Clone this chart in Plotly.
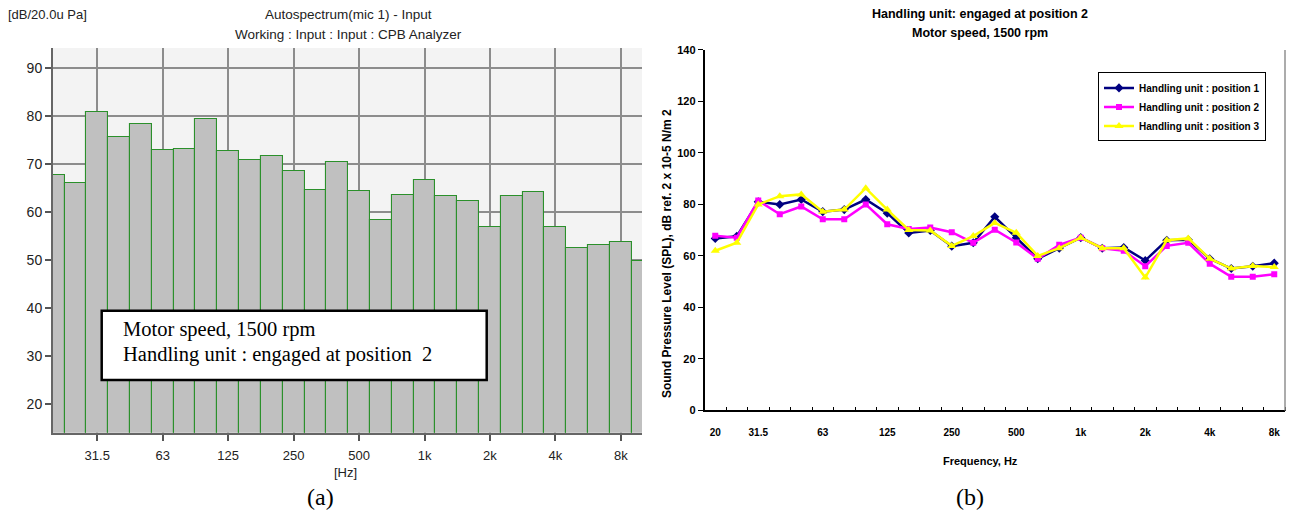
import plotly.graph_objects as go

W, H = 1289, 517

# ---- data ----
bands_a = ["20", "25", "31.5", "40", "50", "63", "80", "100", "125", "160", "200", "250", "315", "400",
           "500", "630", "800", "1k", "1.25k", "1.6k", "2k", "2.5k", "3.15k", "4k", "5k", "6.3k", "8k", "10k"]
autospec = [67.6, 66.1, 80.9, 75.6, 78.3, 73.0, 73.2, 79.3, 72.7, 70.9, 71.6, 68.5, 64.6, 70.5,
            64.3, 58.4, 63.6, 66.6, 63.3, 62.4, 56.8, 63.3, 64.1, 56.8, 52.6, 53.2, 53.7, 49.8]
ticks_a = ["31.5", "63", "125", "250", "500", "1k", "2k", "4k", "8k"]

bands_b = bands_a[:27]
pos1 = [66.8, 67.6, 81.0, 80.0, 81.9, 77.2, 78.0, 81.9, 76.6, 68.9, 69.9, 63.8, 65.1, 75.2,
        67.1, 58.9, 63.0, 67.1, 63.0, 63.3, 58.2, 66.1, 66.3, 58.9, 55.1, 56.0, 57.2]
pos2 = [67.8, 67.1, 81.5, 76.2, 79.2, 74.2, 74.2, 80.0, 72.3, 70.5, 71.0, 69.2, 65.1, 70.2,
        65.2, 58.9, 64.3, 67.1, 63.0, 62.0, 56.0, 63.9, 65.1, 57.0, 51.9, 51.9, 52.9]
pos3 = [62.0, 65.1, 80.0, 83.2, 83.9, 77.2, 78.0, 86.3, 78.0, 70.1, 69.9, 63.9, 67.7, 72.8,
        69.0, 60.0, 63.0, 67.1, 63.0, 63.0, 51.6, 66.1, 66.8, 58.9, 55.1, 56.1, 55.7]
ticks_b = ["20", "31.5", "63", "125", "250", "500", "1k", "2k", "4k", "8k"]
series_names = ["Handling unit : position 1", "Handling unit : position 2", "Handling unit : position 3"]

# ---- helpers ----
def px(x):
    return x / W

def py(y):
    return 1 - y / H

NARROW = "Liberation Sans Narrow, Arial Narrow, Liberation Sans, Arial"
SANS = "Liberation Sans, Arial"
SERIF = "Liberation Serif, Times New Roman"

xa = list(range(len(bands_a)))
xb = list(range(len(bands_b)))
tickpos_a = [bands_a.index(t) for t in ticks_a]
tickpos_b = [bands_b.index(t) for t in ticks_b]

fig = go.Figure()

fig.add_trace(go.Bar(
    x=xa, y=autospec, width=1, base=0,
    marker=dict(color="#c0c0c0", line=dict(color="#2b902b", width=1.1)),
    xaxis="x", yaxis="y", showlegend=False, hoverinfo="skip"))

styles = [
    dict(color="#000080", symbol="diamond", size=7),
    dict(color="#ff00ff", symbol="square", size=6),
    dict(color="#ffff00", symbol="triangle-up", size=8),
]
for name, vals, st in zip(series_names, [pos1, pos2, pos3], styles):
    fig.add_trace(go.Scatter(
        x=xb, y=vals, mode="lines+markers", name=name,
        line=dict(color=st["color"], width=2.5),
        marker=dict(color=st["color"], symbol=st["symbol"], size=st["size"]),
        xaxis="x2", yaxis="y2"))

fig.update_layout(
    width=W, height=H, margin=dict(l=0, r=0, t=0, b=0),
    paper_bgcolor="white", plot_bgcolor="white",
    bargap=0,
    xaxis=dict(domain=[px(53), px(642)], range=[-0.03, 26.97],
               tickmode="array", tickvals=tickpos_a, ticktext=ticks_a,
               ticks="outside", ticklen=6, tickcolor="#555", tickwidth=1.5,
               ticklabelstandoff=4,
               showgrid=True, gridcolor="#8c8c8c", gridwidth=1.5,
               showline=True, linecolor="#666", linewidth=2,
               zeroline=False, anchor="y",
               tickfont=dict(family=SANS, size=13, color="#222")),
    yaxis=dict(domain=[py(437), py(43)], range=[14.1, 94.1],
               tickmode="array", tickvals=[20, 30, 40, 50, 60, 70, 80, 90],
               ticks="outside", ticklen=6, tickcolor="#555", tickwidth=1.5,
               showgrid=True, gridcolor="#8c8c8c", gridwidth=1.5,
               showline=True, linecolor="#666", linewidth=2,
               zeroline=False, anchor="x",
               tickfont=dict(family=SANS, size=14, color="#222")),
    xaxis2=dict(domain=[px(704.5), px(1285)], range=[-0.5, 26.5],
                tickmode="array", tickvals=tickpos_b, ticktext=ticks_b, ticks="",
                ticklabelstandoff=12,
                minor=dict(tickmode="array", tickvals=[i - 0.5 for i in range(len(bands_b) + 1)],
                           ticks="inside", ticklen=4, tickcolor="black", tickwidth=1, showgrid=False),
                showgrid=False, showline=True, linecolor="black", linewidth=1.5,
                zeroline=False, anchor="y2",
                tickfont=dict(family=NARROW, size=10, color="black", weight="bold")),
    yaxis2=dict(domain=[py(414), py(45)], range=[0, 140],
                tickmode="array", tickvals=[0, 20, 40, 60, 80, 100, 120, 140],
                ticks="outside", ticklen=5, tickcolor="black", tickwidth=1,
                showgrid=False, showline=True, linecolor="black", linewidth=1.5,
                zeroline=False, anchor="x2",
                tickfont=dict(family=NARROW, size=11, color="black", weight="bold")),
    legend=dict(x=px(1098), y=py(68), xanchor="left", yanchor="top",
                bgcolor="white", bordercolor="black", borderwidth=1,
                font=dict(family=NARROW, size=10, color="black", weight="bold"),
                itemwidth=30, tracegroupgap=0),
)

shapes = [
    dict(type="rect", xref="x domain", yref="y domain", x0=0, x1=1, y0=0, y1=1,
         fillcolor="#f3f3f3", line=dict(width=0), layer="below"),
    dict(type="rect", xref="paper", yref="paper", x0=px(101.7), x1=px(486.7), y0=py(383), y1=py(312),
         fillcolor="white", line=dict(color="black", width=2.5), layer="above"),
    dict(type="line", xref="x2 domain", yref="y2 domain", x0=1, x1=1, y0=0, y1=1,
         line=dict(color="#909090", width=1.5)),
]
fig.update_layout(shapes=shapes)

def ann(text, x, y, size, family, xanchor="center", bold=False, angle=0, color="#222"):
    fig.add_annotation(text=text, x=px(x), y=py(y), xref="paper", yref="paper",
                       xanchor=xanchor, yanchor="middle", showarrow=False, textangle=angle,
                       font=dict(family=family, size=size, color=color,
                                 weight="bold" if bold else "normal"))

ann("[dB/20.0u Pa]", 6, 9, 13, SANS, xanchor="left")
ann("Autospectrum(mic 1) - Input", 348, 9, 13.5, SANS)
ann("Working : Input : Input : CPB Analyzer", 348, 29, 13.5, SANS)
ann("[Hz]", 345, 478, 13, SANS)
ann("Motor speed, 1500 rpm", 121, 331, 20.5, SERIF, xanchor="left", color="black")
ann("Handling unit : engaged at position  2", 121, 357, 20.5, SERIF, xanchor="left", color="black")
ann("(a)", 320, 503, 24, SERIF, color="black")
ann("(b)", 970, 503, 24, SERIF, color="black")

ann("Handling unit: engaged at position 2", 980, 8, 12.5, NARROW, bold=True, color="black")
ann("Motor speed, 1500 rpm", 980, 28, 12.5, NARROW, bold=True, color="black")
ann("Frequency, Hz", 980, 466, 11, NARROW, bold=True, color="black")
ann("Sound Pressure Level (SPL), dB ref. 2 x 10-5 N/m 2", 667, 254, 12, NARROW, bold=True,
    angle=-90, color="black")

fig.write_html("out.html")
